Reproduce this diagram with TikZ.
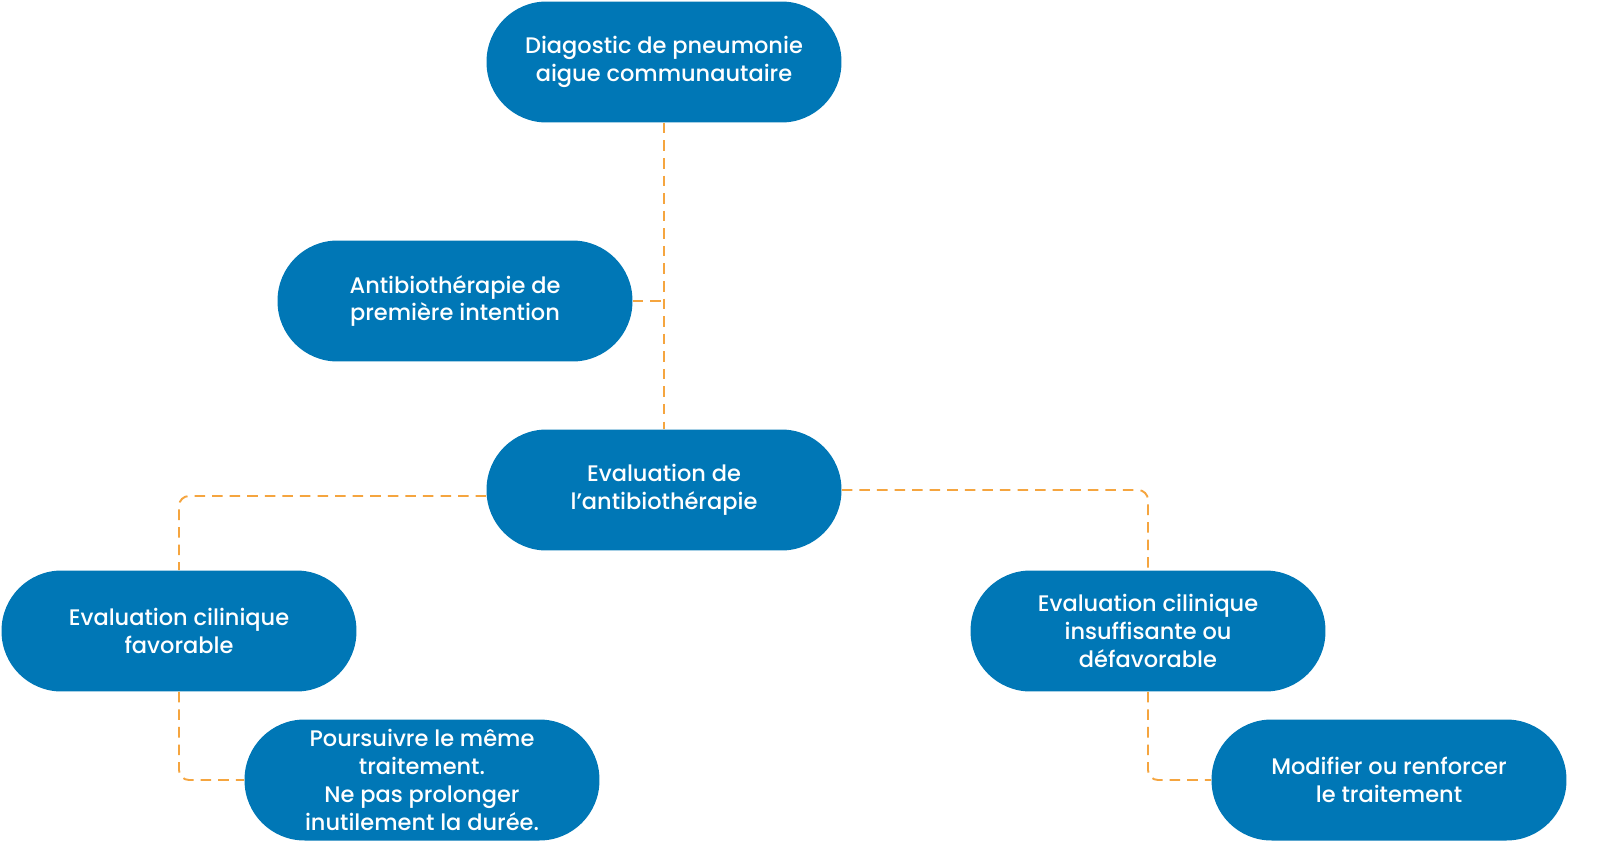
\documentclass[tikz,border=0pt]{standalone}
\usepackage{fontspec}
\setmainfont{Poppins Medium}
\definecolor{bleu}{RGB}{0,119,182}
\definecolor{trait}{RGB}{245,165,63}

\begin{document}
\begin{tikzpicture}[x=0.02cm,y=-0.02cm,
	boite/.style={fill=bleu,text=white,rounded corners=1.2cm,minimum width=7.1cm,minimum height=2.42cm,inner sep=0pt,align=center,font=\fontsize{12.8}{15.9}\selectfont},
	lien/.style={draw=trait,line width=1.1pt,dash pattern=on 6pt off 4pt,rounded corners=0.2cm}]
	\useasboundingbox (0,0) rectangle (1599,859);
	\node[boite] (diag) at (664,62) {Diagostic de pneumonie\\aigue communautaire};
	\node[boite] (antibio) at (455,301) {Antibiothérapie de\\première intention};
	\node[boite] (eval) at (664,490) {Evaluation de\\l’antibiothérapie};
	\node[boite] (fav) at (179,631) {Evaluation cilinique\\favorable};
	\node[boite] (defav) at (1148,631) {Evaluation cilinique\\insuffisante ou\\défavorable};
	\node[boite] (poursuivre) at (422,780) {Poursuivre le même\\traitement.\\Ne pas prolonger\\inutilement la durée.};
	\node[boite] (modifier) at (1389,780) {Modifier ou renforcer\\le traitement};
	\draw[lien] (diag.south) -- (eval.north);
	\draw[lien] (antibio.east) -- (antibio.east -| diag.south);
	\draw[lien] ([yshift=-0.12cm]eval.west) -| (fav.north);
	\draw[lien] (eval.east) -| (defav.north);
	\draw[lien] (fav.south) |- (poursuivre.west);
	\draw[lien] (defav.south) |- (modifier.west);
\end{tikzpicture}
\end{document}
